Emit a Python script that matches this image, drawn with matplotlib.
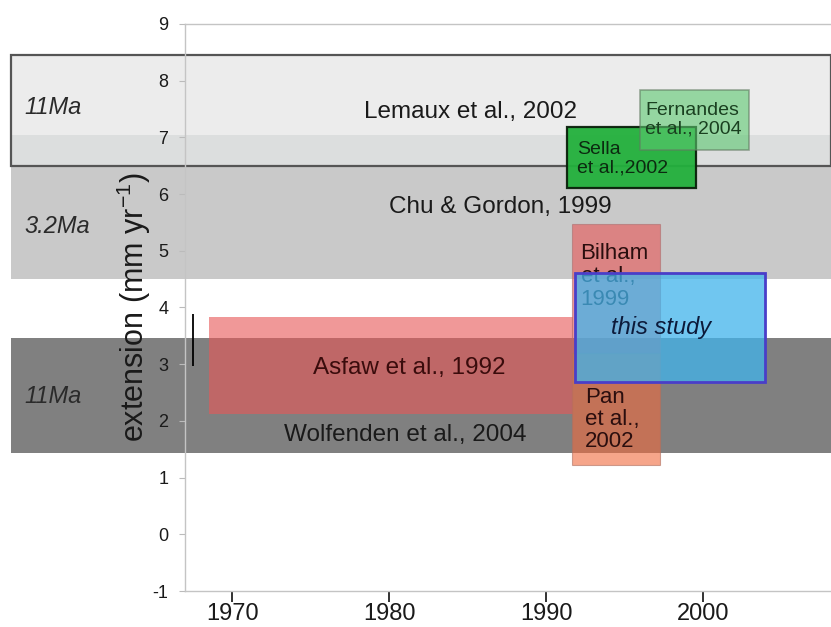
import matplotlib
matplotlib.use("Agg")
import matplotlib.pyplot as plt
from matplotlib.patches import Rectangle

plt.rcParams['font.family'] = ['Liberation Sans', 'DejaVu Sans']
plt.rcParams['mathtext.fontset'] = 'custom'
plt.rcParams['mathtext.rm'] = 'Liberation Sans'
plt.rcParams['mathtext.default'] = 'rm'
plt.rcParams['axes.unicode_minus'] = False

# long-term (geological) rate bands: label, low, high, colour
band_names = ["Lemaux et al., 2002", "", "Chu & Gordon, 1999", "Wolfenden et al., 2004"]
band_lo = [6.5, 6.5, 4.5, 1.43]
band_hi = [8.45, 7.05, 6.5, 3.47]
band_colors = ['#ececec', '#dcdede', '#c9c9c9', '#808080']
band_label_y = [7.45, None, 5.78, 1.76]
band_label_x = [1985.2, None, 1987.1, 1981.0]

# ages written at the left of the bands
age_labels = ["11Ma", "3.2Ma", "11Ma"]
age_y = [7.52, 5.43, 2.43]

# geodetic estimates: label, start year, end year, low, high
study_names = ["Asfaw et al., 1992", "Bilham\net al.,\n1999", "Pan\net al.,\n2002",
               "Sella\net al.,2002", "Fernandes\net al., 2004", "this study"]
study_x0 = [1968.5, 1991.65, 1991.65, 1991.35, 1996.0, 1991.85]
study_x1 = [1991.7, 1997.25, 1997.25, 1999.55, 2002.9, 2003.95]
study_lo = [2.13, 3.2, 1.22, 6.11, 6.78, 2.68]
study_hi = [3.83, 5.48, 3.2, 7.19, 7.84, 4.6]

xmin, xmax = 1967.0, 2008.15
band_left = 1955.9

fig = plt.figure(figsize=(8.31, 6.27), dpi=100)
ax = fig.add_axes([185 / 831, 1 - 591 / 627, 646 / 831, 567 / 627])
ax.set_xlim(xmin, xmax)
ax.set_ylim(-1, 9)

# background bands, running out past the left axis
for i in range(len(band_lo)):
    ax.add_patch(Rectangle((band_left, band_lo[i]), xmax - band_left, band_hi[i] - band_lo[i],
                           facecolor=band_colors[i], edgecolor='none', zorder=0.5,
                           clip_on=False))
    if band_names[i]:
        ax.text(band_label_x[i], band_label_y[i], band_names[i], ha='center', va='center',
                fontsize=17.5, color='#1a1a1a', zorder=1)
# outline of the Lemaux box
ax.add_patch(Rectangle((band_left, band_lo[0]), xmax - band_left, band_hi[0] - band_lo[0],
                       facecolor='none', edgecolor='#555555', lw=1.6, zorder=0.6,
                       clip_on=False))

for lab, yy in zip(age_labels, age_y):
    ax.text(band_left + 0.9, yy, lab, ha='left', va='center', fontsize=17,
            style='italic', color='#2a2a2a')

# small uncertainty bar at the left
ax.vlines(1967.5, 2.97, 3.88, color='black', lw=1.3, zorder=3)

red = '#e75959'
# Asfaw
ax.add_patch(Rectangle((study_x0[0], study_lo[0]), study_x1[0] - study_x0[0],
                       study_hi[0] - study_lo[0], facecolor=red, alpha=0.62,
                       edgecolor='none', zorder=2))
ax.text(1981.3, 2.94, study_names[0], ha='center', va='center', fontsize=17.5,
        color='#3a0c0c', zorder=2.1)

# Bilham and Pan
ax.add_patch(Rectangle((study_x0[1], study_lo[1]), study_x1[1] - study_x0[1],
                       study_hi[1] - study_lo[1], facecolor=red, alpha=0.62,
                       edgecolor='#b07070', lw=0.8, zorder=2))
ax.add_patch(Rectangle((study_x0[2], study_lo[2]), study_x1[2] - study_x0[2],
                       study_hi[2] - study_lo[2], facecolor='#f06a3c', alpha=0.6,
                       edgecolor='#b07060', lw=0.8, zorder=2))
ax.text(1992.2, 5.13, study_names[1], ha='left', va='top', fontsize=16,
        color='#2a0e0e', linespacing=1.12, zorder=2.1)
ax.text(1992.5, 2.6, study_names[2], ha='left', va='top', fontsize=16,
        color='#2a0e0e', linespacing=1.08, zorder=2.1)

# this study
ax.add_patch(Rectangle((study_x0[5], study_lo[5]), study_x1[5] - study_x0[5],
                       study_hi[5] - study_lo[5], facecolor='#40b4ec', alpha=0.75,
                       edgecolor='none', zorder=3))
ax.add_patch(Rectangle((study_x0[5], study_lo[5]), study_x1[5] - study_x0[5],
                       study_hi[5] - study_lo[5], facecolor='none',
                       edgecolor='#4a3ec8', lw=2, zorder=3.1))
ax.text(1997.3, 3.65, study_names[5], ha='center', va='center', fontsize=17,
        style='italic', color='#0c1a3a', zorder=3.2)

# Sella and Fernandes
ax.add_patch(Rectangle((study_x0[3], study_lo[3]), study_x1[3] - study_x0[3],
                       study_hi[3] - study_lo[3], facecolor='#22b03c', alpha=0.95,
                       edgecolor='#0a200a', lw=1.6, zorder=2))
ax.text(1992.0, 6.62, study_names[3], ha='left', va='center', fontsize=14,
        color='#0c2a10', linespacing=1.15, zorder=2.1)
ax.add_patch(Rectangle((study_x0[4], study_lo[4]), study_x1[4] - study_x0[4],
                       study_hi[4] - study_lo[4], facecolor='#5cc870', alpha=0.6,
                       edgecolor='#607a60', lw=1.2, zorder=2.2))
ax.text(1996.3, 7.31, study_names[4], ha='left', va='center', fontsize=14,
        color='#1a4020', linespacing=1.18, zorder=2.3)

# axes styling
for side in ['left', 'bottom', 'top']:
    ax.spines[side].set_color('#c4c4c4')
    ax.spines[side].set_linewidth(1.0)
ax.spines['right'].set_visible(False)

ax.set_xticks([1970, 1980, 1990, 2000])
ax.set_yticks(range(-1, 10))
ax.tick_params(axis='x', direction='out', length=8, width=1.3, color='#222222',
               labelsize=17, pad=1, labelcolor='#1a1a1a')
ax.tick_params(axis='y', direction='out', length=4, width=0.8, color='#bbbbbb',
               labelsize=13, pad=8, labelcolor='#1a1a1a')

ax.set_ylabel(r'extension (mm yr$^{-1}$)', fontsize=22, color='#1a1a1a')
ax.yaxis.set_label_coords(-0.05, 0.5)

fig.savefig('out.png', dpi=100)
